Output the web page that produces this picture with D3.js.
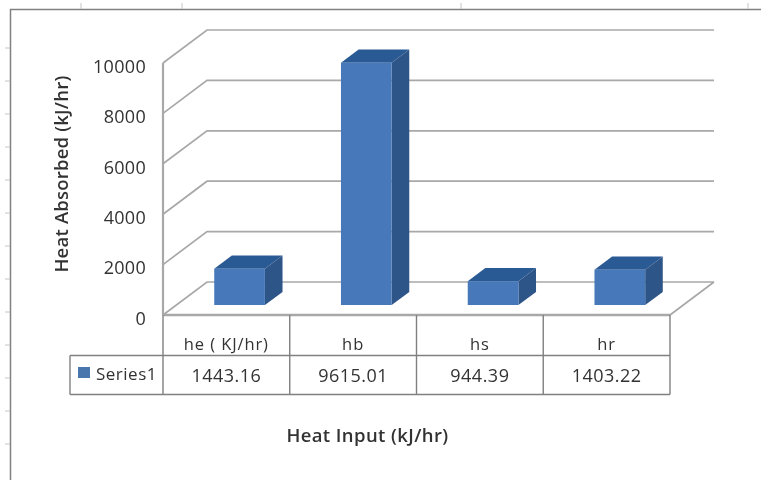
<!DOCTYPE html>
<html>
<head>
<meta charset="utf-8">
<script src="https://cdn.jsdelivr.net/npm/d3@7"></script>
<style>
  html, body { margin: 0; padding: 0; background: #fff; }
  svg { display: block; }
  text { font-family: "Open Sans", sans-serif; fill: #333; }
</style>
</head>
<body>
<svg id="root" width="761" height="480">
  <defs>
    <!-- the source is a soft, blurry screenshot -->
    <filter id="soft" x="0" y="0" width="100%" height="100%"><feGaussianBlur stdDeviation="0.45"/></filter>
  </defs>
  <g id="chart" filter="url(#soft)"></g>
</svg>
<script>
const categories = ["he ( KJ/hr)", "hb", "hs", "hr"];
const series_name = "Series1";
const series_values = [1443.16, 9615.01, 944.39, 1403.22];
const value_labels = ["1443.16", "9615.01", "944.39", "1403.22"];
const y_ticks = [0, 2000, 4000, 6000, 8000, 10000];

const svg = d3.select("#chart");

// floor goes back this far, everything 3D goes through project()
const depth_x = 44, depth_y = -33;
const x = d3.scaleBand().domain(categories).range([163, 670]);
const y = d3.scaleLinear().domain([0, 10000]).range([315, 63]);
const bar_width = x.bandwidth() * 0.4;
const table_right = x.range()[1];

function project(px, v, z) {
  return [px + z * depth_x, y(v) + z * depth_y];
}
function poly(points) {
  return points.map(p => p.join(",")).join(" ");
}

const grid_color = "#a8a8a8", table_color = "#808080";

// sheet border and the leftover ruler ticks
const frame = svg.append("g").attr("stroke", "#808080").attr("fill", "none");
frame.append("path").attr("d", "M761,9.5H10.5V480").attr("stroke-width", 1.5);
[81, 182, 461, 748].forEach(t => {
  frame.append("line").attr("x1", t).attr("x2", t).attr("y1", 3).attr("y2", 9).attr("stroke", "#c4c4c4");
});
d3.range(48, 470, 33).forEach(t => {
  frame.append("line").attr("x1", 5).attr("x2", 10).attr("y1", t).attr("y2", t).attr("stroke", "#c4c4c4");
});

// walls
const grid = svg.append("g").attr("fill", "none").attr("stroke", grid_color).attr("stroke-width", 1.7);
y_ticks.forEach(t => {
  const a = project(x.range()[0], t, 0), b = project(x.range()[0], t, 1), c = project(table_right, t, 1);
  grid.append("polyline").attr("points", poly([a, b, c]));
});
grid.append("line")
  .attr("x1", x.range()[0]).attr("x2", x.range()[0])
  .attr("y1", y(0)).attr("y2", y(10000)).attr("stroke-width", 2.2);
grid.append("polyline")
  .attr("points", poly([project(table_right, 0, 1), project(table_right, 0, 0)]));
grid.append("line")
  .attr("x1", x.range()[0]).attr("x2", table_right)
  .attr("y1", y(0)).attr("y2", y(0)).attr("stroke-width", 2.6);

// y axis labels
const y_axis = svg.append("g")
  .attr("transform", "translate(146,3.5)")
  .call(d3.axisLeft(y).tickValues(y_ticks).tickFormat(d3.format("d")).tickSize(0).tickPadding(0));
y_axis.select(".domain").remove();
y_axis.selectAll("text")
  .attr("font-size", 18)
  .attr("letter-spacing", 0.3)
  .attr("font-family", '"Open Sans", sans-serif')
  .attr("fill", "#333");

// bars
const bars = svg.append("g").selectAll("g")
  .data(series_values)
  .enter()
  .append("g");

function bar_left(i) {
  return x(categories[i]) + (x.bandwidth() - bar_width) / 2;
}
bars.append("polygon")
  .attr("fill", "#2c5a94")
  .attr("points", (d, i) => poly([
    project(bar_left(i), d, 0.3),
    project(bar_left(i), d, 0.7),
    project(bar_left(i) + bar_width, d, 0.7),
    project(bar_left(i) + bar_width, d, 0.3)
  ]));
bars.append("polygon")
  .attr("fill", "#2f5487")
  .attr("points", (d, i) => poly([
    project(bar_left(i) + bar_width, d, 0.3),
    project(bar_left(i) + bar_width, d, 0.7),
    project(bar_left(i) + bar_width, 0, 0.7),
    project(bar_left(i) + bar_width, 0, 0.3)
  ]));
bars.append("polygon")
  .attr("fill", "#4679ba")
  .attr("points", (d, i) => poly([
    project(bar_left(i), d, 0.3),
    project(bar_left(i) + bar_width, d, 0.3),
    project(bar_left(i) + bar_width, 0, 0.3),
    project(bar_left(i), 0, 0.3)
  ]));

// data table
const row_mid = 355.5, row_bottom = 394.5, table_left = 70;
const table = svg.append("g").attr("stroke", table_color).attr("stroke-width", 1.4).attr("fill", "none");
table.append("line").attr("x1", table_left).attr("x2", table_right).attr("y1", row_mid).attr("y2", row_mid);
table.append("line").attr("x1", table_left).attr("x2", table_right).attr("y1", row_bottom).attr("y2", row_bottom);
table.append("line").attr("x1", table_left).attr("x2", table_left).attr("y1", row_mid).attr("y2", row_bottom);
categories.forEach(c => {
  table.append("line").attr("x1", x(c)).attr("x2", x(c)).attr("y1", y(0)).attr("y2", row_bottom);
});
table.append("line").attr("x1", table_right).attr("x2", table_right).attr("y1", y(0)).attr("y2", row_bottom);

svg.append("g").selectAll("text")
  .data(categories)
  .enter()
  .append("text")
  .attr("x", d => x(d) + x.bandwidth() / 2)
  .attr("y", 350)
  .attr("text-anchor", "middle")
  .attr("font-size", 16.5)
  .attr("letter-spacing", 0.9)
  .text(d => d);

svg.append("g").selectAll("text")
  .data(value_labels)
  .enter()
  .append("text")
  .attr("x", (d, i) => x(categories[i]) + x.bandwidth() / 2)
  .attr("y", 381.5)
  .attr("text-anchor", "middle")
  .attr("font-size", 18)
  .attr("letter-spacing", 0.5)
  .text(d => d);

// legend key
svg.append("rect").attr("x", 78).attr("y", 367).attr("width", 12).attr("height", 11).attr("fill", "#4a76ad");
svg.append("text").attr("x", 96).attr("y", 380).attr("font-size", 17).attr("letter-spacing", 0.5).text(series_name);

// axis titles
svg.append("text")
  .attr("x", 367.5).attr("y", 442)
  .attr("text-anchor", "middle")
  .attr("font-size", 18.5).attr("font-weight", 600).attr("letter-spacing", 0.4).attr("fill", "#222")
  .text("Heat Input (kJ/hr)");
svg.append("text")
  .attr("transform", "translate(68,174) rotate(-90)")
  .attr("text-anchor", "middle")
  .attr("font-size", 18.5).attr("font-weight", 600).attr("letter-spacing", 0.2).attr("fill", "#222")
  .text("Heat Absorbed (kJ/hr)");
</script>
</body>
</html>
